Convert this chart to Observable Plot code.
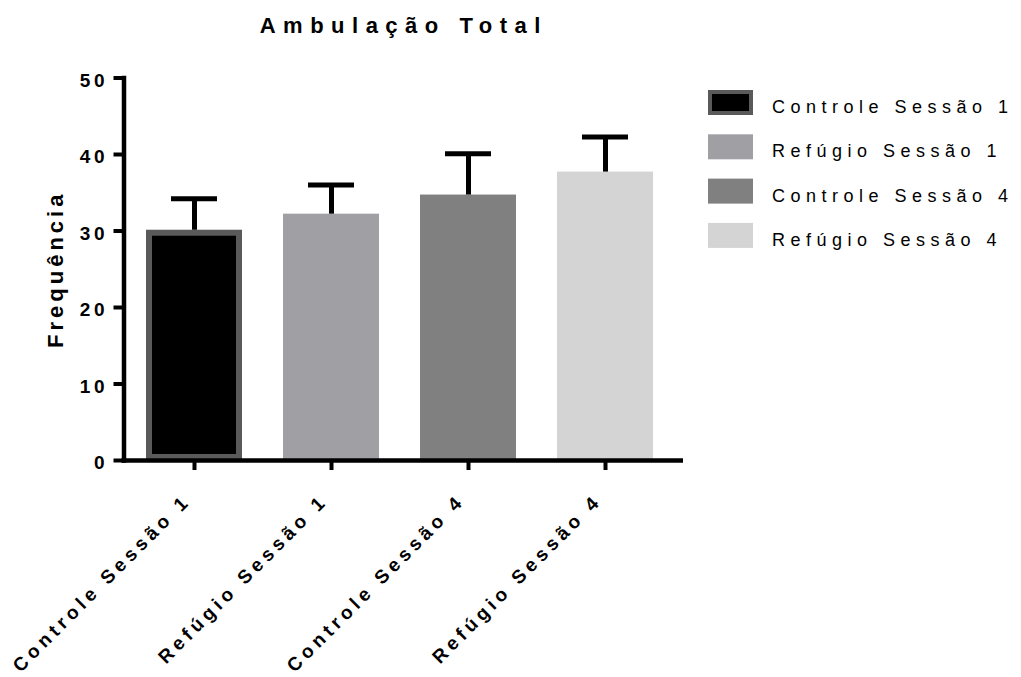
<!DOCTYPE html>
<html>
<head>
<meta charset="utf-8">
<script src="https://cdn.jsdelivr.net/npm/d3@7"></script>
<script src="https://cdn.jsdelivr.net/npm/@observablehq/plot@0.6"></script>
<style>
  body { margin: 0; background: #fff; }
  #chart { width: 1021px; height: 677px; }
</style>
</head>
<body>
<div id="chart"></div>
<script>
// Ambulação total: mean frequency per group with the upper error bar (mean + SEM)
const categories = ["Controle Sessão 1", "Refúgio Sessão 1", "Controle Sessão 4", "Refúgio Sessão 4"];
const means = [30.1, 32.2, 34.7, 37.7];
const upper = [34.2, 36.0, 40.1, 42.3];
const fills = ["#000000", "#a0a0a4", "#808080", "#d4d4d4"];
const borders = ["#5a5a5a", "#a0a0a4", "#808080", "#d4d4d4"];
const yTicks = [0, 10, 20, 30, 40, 50];
const title = "Ambulação Total";
const yLabel = "Frequência";

const rows = categories.map((cat, i) => ({
  cat, mean: means[i], upper: upper[i], fill: fills[i], border: borders[i]
}));

const font = "'Liberation Sans', Arial, Helvetica, sans-serif";

const svg = Plot.plot({
  width: 1021,
  height: 677,
  marginLeft: 123.5,
  marginRight: 338,
  marginTop: 77.5,
  marginBottom: 217,
  x: { domain: categories, range: [123.5, 674.5], paddingInner: 0.3, paddingOuter: 0.157, label: null },
  y: { domain: [0, 50], label: null },
  color: { type: "identity" },
  style: { fontFamily: font, color: "#000", background: "transparent", overflow: "visible" },
  marks: [
    // bars (first one has a grey border)
    Plot.barY(rows, { x: "cat", y: "mean", fill: "fill", stroke: "border", strokeWidth: 6, inset: 3 }),
    // error bars: stem + cap
    Plot.ruleX(rows, { x: "cat", y1: "mean", y2: "upper", stroke: "#000", strokeWidth: 5 }),
    Plot.tickY(rows, { x: "cat", y: "upper", stroke: "#000", strokeWidth: 5, insetLeft: 25, insetRight: 25 }),
    // axis lines and tick marks
    Plot.frame({ anchor: "left", strokeWidth: 4.5, stroke: "#000" }),
    Plot.ruleY([0], { stroke: "#000", strokeWidth: 4.5, insetLeft: -2 }),
    Plot.axisY({ ticks: yTicks, tickSize: 10, strokeWidth: 4, tickFormat: () => "", label: null }),
    Plot.axisX({ tickSize: 10, strokeWidth: 4, tickFormat: () => "", label: null }),
    // y tick labels
    Plot.text(yTicks, { y: d => d, text: d => String(d), frameAnchor: "left", textAnchor: "end",
      dx: -16, dy: 2.5, fontSize: 19, fontWeight: "bold" }),
    // x category labels
    Plot.text(categories, { x: d => d, text: d => d, frameAnchor: "bottom", rotate: -45,
      textAnchor: "end", lineAnchor: "middle", dx: -7, dy: 37, fontSize: 19, fontWeight: "bold" }),
    // title
    Plot.text([title], { frameAnchor: "top", textAnchor: "middle", lineAnchor: "bottom", dy: -45.5,
      fontSize: 22, fontWeight: "bold" }),
    // y axis label
    Plot.text([yLabel], { frameAnchor: "left", textAnchor: "middle", rotate: -90, dx: -68,
      fontSize: 22, fontWeight: "bold" })
  ]
});

// letter spacing for each text mark, in mark order
const textGroups = svg.querySelectorAll('g[aria-label="text"]');
const spacing = ["3.5px", "4.5px", "7.5px", "4px"];
textGroups.forEach((g, i) => { g.style.letterSpacing = spacing[i] || "0px"; });

// legend on the right
const legend = d3.select(svg).append("g")
  .attr("font-family", font).attr("font-size", 18).attr("text-anchor", "start")
  .style("letter-spacing", "5.5px");
categories.forEach((cat, i) => {
  const top = 90 + 44.3 * i;
  if (i === 0) {
    legend.append("rect").attr("x", 710).attr("y", top + 2).attr("width", 41).attr("height", 21)
      .attr("fill", fills[i]).attr("stroke", borders[i]).attr("stroke-width", 4);
  } else {
    legend.append("rect").attr("x", 708).attr("y", top).attr("width", 45).attr("height", 25)
      .attr("fill", fills[i]);
  }
  legend.append("text").attr("x", 772).attr("y", 113 + 44.3 * i).attr("fill", "#000").text(cat);
});

document.getElementById("chart").appendChild(svg);
</script>
</body>
</html>
